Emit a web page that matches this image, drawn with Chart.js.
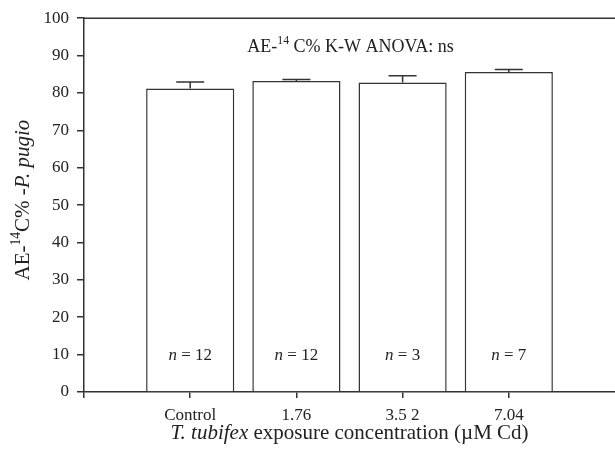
<!DOCTYPE html>
<html>
<head>
<meta charset="utf-8">
<script src="https://cdn.jsdelivr.net/npm/chart.js@4"></script>
<style>
  html, body { margin: 0; padding: 0; background: #fff; }
  #wrap { width: 615px; height: 452px; }
</style>
</head>
<body>
<div id="wrap"><canvas id="aeChart" width="615" height="452"></canvas></div>
<script>
// valeurs
const categories = ["Control", "1.76", "3.5 2", "7.04"];
const means = [81.2, 83.2, 82.8, 85.6];
const errors = [1.7, 0.4, 1.8, 0.7];
const sampleSizes = [12, 12, 3, 7];

const SERIF = "'Liberation Serif', 'Times New Roman', serif";
const INK = "#333";

// texte avec italique / exposant
function drawRich(ctx, parts, size) {
  const widths = parts.map(p => {
    ctx.font = (p.it ? "italic " : "") + (p.sup ? size * 0.65 : size) + "px " + SERIF;
    return ctx.measureText(p.t).width;
  });
  const total = widths.reduce((a, b) => a + b, 0);
  let x = -total / 2;
  parts.forEach((p, i) => {
    ctx.font = (p.it ? "italic " : "") + (p.sup ? size * 0.65 : size) + "px " + SERIF;
    ctx.fillText(p.t, x, p.sup ? -size * 0.42 : 0);
    x += widths[i];
  });
}

const extras = {
  id: "extras",
  afterDatasetsDraw(chart) {
    const { ctx, chartArea: a, scales: { x, y } } = chart;
    ctx.save();
    ctx.strokeStyle = INK;
    ctx.lineWidth = 1.5;

    // cadre du haut
    ctx.beginPath();
    ctx.moveTo(a.left, a.top);
    ctx.lineTo(a.right, a.top);
    ctx.stroke();

    // barres d'erreur (haut seulement)
    means.forEach((m, i) => {
      const px = x.getPixelForValue(i + 1);
      const y0 = y.getPixelForValue(m);
      const y1 = y.getPixelForValue(m + errors[i]);
      ctx.beginPath();
      ctx.moveTo(px, y0);
      ctx.lineTo(px, y1);
      ctx.moveTo(px - 14, y1);
      ctx.lineTo(px + 14, y1);
      ctx.stroke();
    });

    ctx.fillStyle = "#222";
    ctx.textBaseline = "alphabetic";
    ctx.textAlign = "left";

    // n = ...
    sampleSizes.forEach((n, i) => {
      ctx.save();
      ctx.translate(x.getPixelForValue(i + 1), y.getPixelForValue(10) + 5);
      drawRich(ctx, [{ t: "n", it: true }, { t: " = " + n }], 17);
      ctx.restore();
    });

    const cx = (a.left + a.right) / 2;
    const cy = (a.top + a.bottom) / 2;

    // titre
    ctx.save();
    ctx.translate(cx + 1, 52);
    drawRich(ctx, [{ t: "AE-" }, { t: "14", sup: true }, { t: " C% K-W ANOVA: ns" }], 18);
    ctx.restore();

    // titre axe x
    ctx.save();
    ctx.translate(cx, 439);
    drawRich(ctx, [{ t: "T. tubifex", it: true }, { t: " exposure concentration (\u00b5M Cd)" }], 21);
    ctx.restore();

    // titre axe y
    ctx.save();
    ctx.translate(29, cy - 5);
    ctx.rotate(-Math.PI / 2);
    drawRich(ctx, [{ t: "AE-" }, { t: "14", sup: true }, { t: "C% -" }, { t: "P. pugio", it: true }], 21);
    ctx.restore();

    ctx.restore();
  }
};

new Chart(document.getElementById("aeChart"), {
  type: "bar",
  data: {
    datasets: [{
      data: means.map((m, i) => ({ x: i + 1, y: m })),
      backgroundColor: "#fff",
      borderColor: INK,
      borderWidth: 1.5,
      categoryPercentage: 1,
      barPercentage: 0.83
    }]
  },
  options: {
    responsive: false,
    animation: false,
    devicePixelRatio: 1,
    layout: { padding: { top: 17, right: 0, left: 0, bottom: 0 } },
    plugins: { legend: { display: false }, tooltip: { enabled: false } },
    scales: {
      x: {
        type: "linear",
        min: 0,
        max: 5,
        offset: false,
        afterFit: s => { s.height = 60; s.paddingLeft = 0; s.paddingRight = 0; },
        afterBuildTicks: s => { s.ticks = [0, 1, 2, 3, 4, 5].map(v => ({ value: v })); },
        ticks: {
          autoSkip: false,
          maxRotation: 0,
          padding: 7,
          color: "#222",
          font: { family: SERIF, size: 17 },
          callback: v => (v >= 1 && v <= 4 ? categories[v - 1] : "")
        },
        grid: {
          drawOnChartArea: false,
          offset: false,
          tickLength: 6,
          lineWidth: 1.5,
          color: c => (c.tick && c.tick.value === 5 ? "rgba(0,0,0,0)" : INK)
        },
        border: { color: INK, width: 1.5 }
      },
      y: {
        min: 0,
        max: 100,
        afterFit: s => { s.width = 84; },
        ticks: {
          stepSize: 10,
          padding: 8,
          color: "#222",
          font: { family: SERIF, size: 17 }
        },
        grid: { drawOnChartArea: false, tickLength: 7, lineWidth: 1.5, color: INK },
        border: { color: INK, width: 1.5 }
      }
    }
  },
  plugins: [extras]
});
</script>
</body>
</html>
